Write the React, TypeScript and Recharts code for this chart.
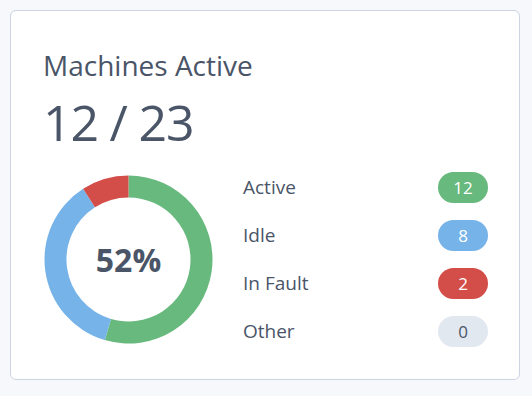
import React from "react";
import { PieChart, Pie, Cell, Label } from "recharts";

const categories = ["Active", "Idle", "In Fault", "Other"];
const values = [12, 8, 2, 0];
const colors = ["#68b97d", "#76b3e8", "#d34e48", "#e2e8f0"];
const badgeText = ["#ffffff", "#ffffff", "#ffffff", "#4a5568"];
const activeCount = 12;
const totalCount = 23;
const percentLabel = "52%";

const data = categories.map((name, i) => ({ name, value: values[i] }));

const FONT = "'Open Sans', 'Noto Sans', sans-serif";
const TEXT = "#4a5568";

export default function App() {
  return (
    <div
      style={{
        position: "fixed",
        left: 0,
        top: 0,
        width: 532,
        height: 396,
        background: "#f6f8fb",
        fontFamily: FONT,
        color: TEXT,
        overflow: "hidden",
      }}
    >
      <div
        style={{
          position: "absolute",
          left: 10,
          top: 10,
          width: 508,
          height: 368,
          background: "#ffffff",
          border: "1.5px solid #cbd5e1",
          borderRadius: 6,
        }}
      />
      <div
        style={{
          position: "absolute",
          left: 43,
          top: 46,
          fontSize: 28,
          lineHeight: "38px",
          whiteSpace: "nowrap",
        }}
      >
        Machines Active
      </div>
      <div
        style={{
          position: "absolute",
          left: 43,
          top: 88,
          fontSize: 50,
          lineHeight: "68px",
          letterSpacing: -1.2,
          whiteSpace: "nowrap",
        }}
      >
        {activeCount} / {totalCount}
      </div>
      <div style={{ position: "absolute", left: 28, top: 159 }}>
        <PieChart width={201} height={201} margin={{ top: 0, right: 0, bottom: 0, left: 0 }}>
          <Pie
            data={data}
            dataKey="value"
            nameKey="name"
            cx={100.5}
            cy={100.5}
            innerRadius={62}
            outerRadius={84}
            startAngle={90}
            endAngle={-270}
            stroke="none"
            isAnimationActive={false}
          >
            {data.map((d, i) => (
              <Cell key={d.name} fill={colors[i]} />
            ))}
            <Label
              position="center"
              content={({ viewBox }: any) => {
                const cx = viewBox?.cx ?? 100.5;
                const cy = viewBox?.cy ?? 100.5;
                return (
                  <text
                    x={cx}
                    y={cy + 12}
                    textAnchor="middle"
                    fill={TEXT}
                    style={{ fontFamily: FONT, fontSize: 32, fontWeight: 700 }}
                  >
                    {percentLabel}
                  </text>
                );
              }}
            />
          </Pie>
        </PieChart>
      </div>
      {categories.map((c, i) => (
        <React.Fragment key={c}>
          <div
            style={{
              position: "absolute",
              left: 243,
              top: 173 + i * 48,
              fontSize: 19,
              lineHeight: "28px",
              whiteSpace: "nowrap",
            }}
          >
            {c}
          </div>
          <div
            style={{
              position: "absolute",
              left: 438,
              top: 172 + i * 48,
              width: 50,
              height: 31,
              borderRadius: 16,
              background: colors[i],
              color: badgeText[i],
              fontSize: 17,
              fontWeight: 500,
              lineHeight: "31px",
              textAlign: "center",
            }}
          >
            {values[i]}
          </div>
        </React.Fragment>
      ))}
    </div>
  );
}
